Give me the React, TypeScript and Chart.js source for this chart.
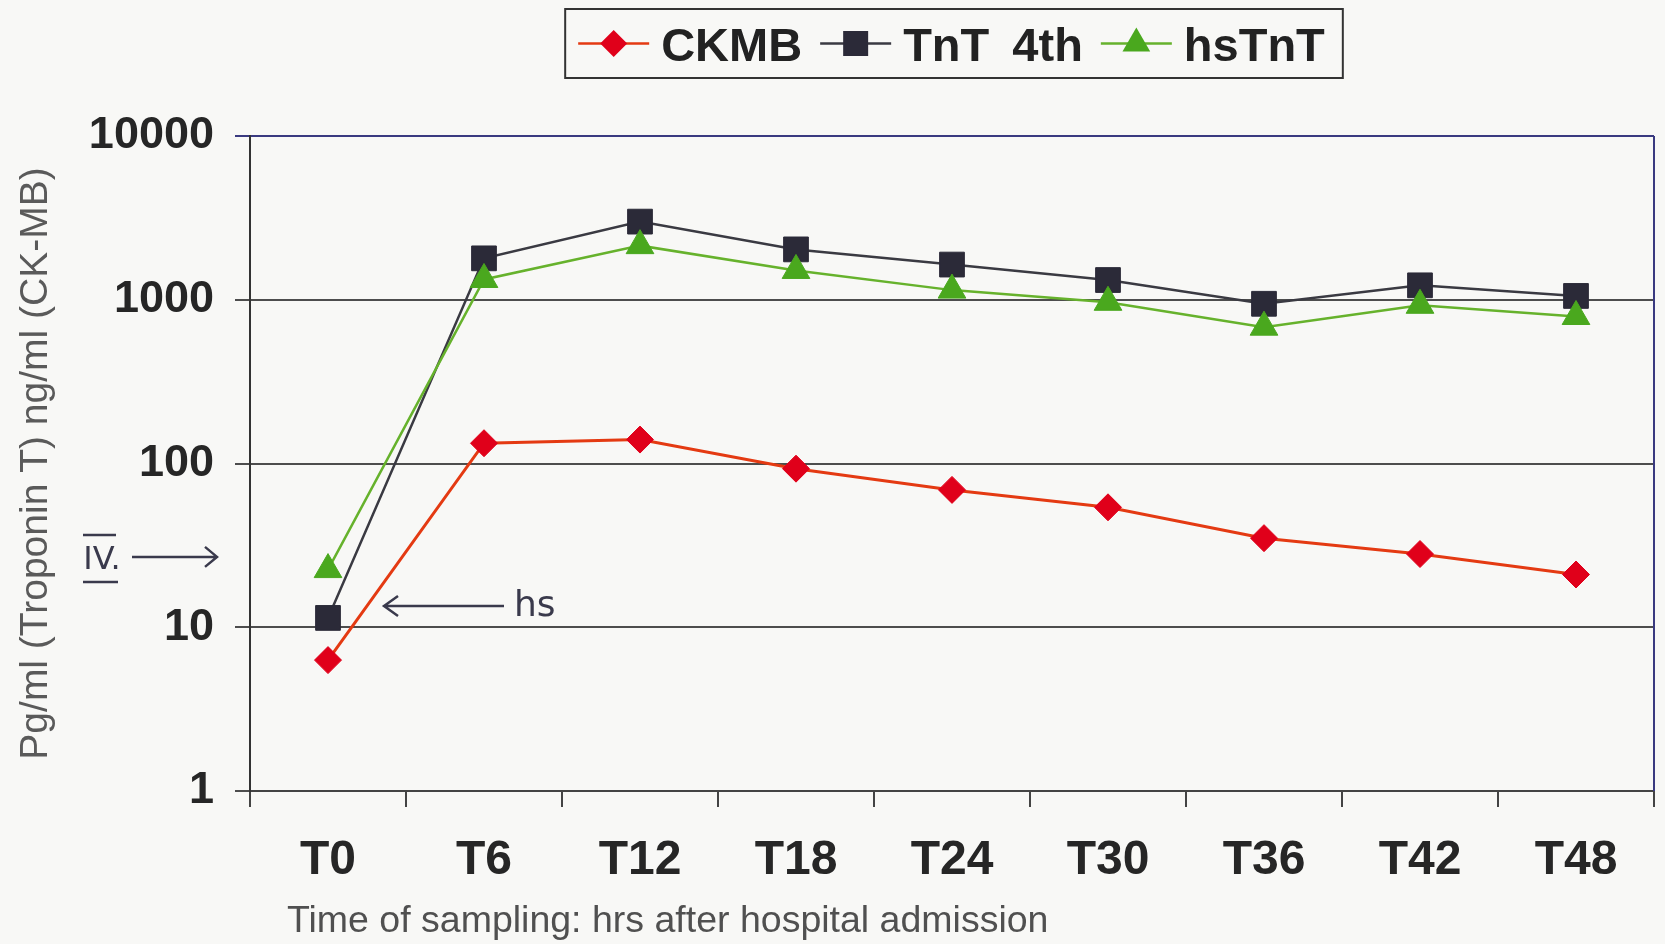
import React, { useEffect, useRef } from "react";
import { Chart, registerables } from "chart.js";

Chart.register(...registerables);

const FONT = "'Liberation Sans', Arial, Helvetica, sans-serif";
const HAND = "'DejaVu Sans', 'Liberation Sans', sans-serif";

const categories = ["T0", "T6", "T12", "T18", "T24", "T30", "T36", "T42", "T48"];
const ckmbValues = [6.3, 133, 140, 93, 69, 54, 35, 28, 21];
const tnt4thValues = [11.4, 1790, 3000, 2030, 1640, 1320, 945, 1225, 1055];
const hsTnTValues = [22.5, 1330, 2140, 1510, 1145, 965, 680, 925, 790];
const seriesNames = ["CKMB", "TnT 4th", "hsTnT"];
const yTickValues = [1, 10, 100, 1000, 10000];
const yTitle = "Pg/ml (Troponin T) ng/ml (CK-MB)";
const xTitle = "Time of sampling: hrs after hospital admission";
const hsNote = "hs";
const ivNote = "IV.";
const hsArrowValue = 13.5;
const ivArrowValue = 26.9;

const lineColors = ["#e43a12", "#3a3a42", "#66b22c"];
const markerColors = ["#e0001a", "#2b2a38", "#4aa81e"];

function drawMarker(ctx: CanvasRenderingContext2D, kind: number, x: number, y: number) {
  ctx.beginPath();
  if (kind === 0) {
    const r = 13.5;
    ctx.moveTo(x, y - r);
    ctx.lineTo(x + r, y);
    ctx.lineTo(x, y + r);
    ctx.lineTo(x - r, y);
    ctx.closePath();
  } else if (kind === 1) {
    const h = 12.5;
    ctx.rect(x - h, y - h, 2 * h, 2 * h);
  } else {
    const r = 16;
    ctx.moveTo(x, y - r);
    ctx.lineTo(x + r * 0.866, y + r * 0.5);
    ctx.lineTo(x - r * 0.866, y + r * 0.5);
    ctx.closePath();
  }
  ctx.fillStyle = markerColors[kind];
  ctx.fill();
}

export default function App() {
  const ref = useRef<HTMLCanvasElement>(null);

  useEffect(() => {
    const canvas = ref.current!;
    const decor = {
      id: "decor",
      afterDraw(chart: any) {
        const ctx: CanvasRenderingContext2D = chart.ctx;
        const ca = chart.chartArea;
        const xs = chart.scales.x;
        const ys = chart.scales.y;
        ctx.save();

        // right frame line
        ctx.strokeStyle = "#3a3a80";
        ctx.lineWidth = 2;
        ctx.beginPath();
        ctx.moveTo(ca.right, ca.top);
        ctx.lineTo(ca.right, ca.bottom);
        ctx.stroke();

        // legend box
        ctx.font = `bold 47px ${FONT}`;
        const widths = seriesNames.map((n) => ctx.measureText(n).width);
        widths[1] += 10;
        const sampleW = 71, gapST = 12, gapE = 18, padL = 13, padR = 18;
        const total = padL + padR + widths.reduce((a, b) => a + b, 0) + 3 * (sampleW + gapST) + 2 * gapE;
        const cx = (ca.left + ca.right) / 2 + 2;
        const bx = cx - total / 2, by = 9, bh = 69;
        ctx.strokeStyle = "#333";
        ctx.lineWidth = 2;
        ctx.strokeRect(bx, by, total, bh);
        let x = bx + padL;
        const cy = by + bh / 2;
        seriesNames.forEach((name, i) => {
          ctx.strokeStyle = lineColors[i];
          ctx.lineWidth = 2.5;
          ctx.beginPath();
          ctx.moveTo(x, cy);
          ctx.lineTo(x + sampleW, cy);
          ctx.stroke();
          drawMarker(ctx, i, x + sampleW / 2, cy);
          x += sampleW + gapST;
          ctx.fillStyle = "#222";
          ctx.textBaseline = "alphabetic";
          ctx.textAlign = "left";
          if (i === 1) {
            ctx.fillText("TnT", x, cy + 17);
            const w1 = ctx.measureText("TnT ").width;
            ctx.fillText("4th", x + w1 + 10, cy + 17);
          } else {
            ctx.fillText(name, x, cy + 17);
          }
          x += widths[i] + gapE;
        });

        // x axis title
        ctx.font = `37.5px ${FONT}`;
        ctx.fillStyle = "#505050";
        ctx.textAlign = "left";
        ctx.textBaseline = "alphabetic";
        ctx.fillText(xTitle, ca.left + 37, 932);

        // handwritten notes
        const noteColor = "#3a3a4c";
        ctx.strokeStyle = noteColor;
        ctx.fillStyle = noteColor;
        ctx.lineWidth = 2.5;
        const x0 = xs.getPixelForValue(0);
        const yh = ys.getPixelForValue(hsArrowValue);
        const tip = x0 + 56;
        ctx.beginPath();
        ctx.moveTo(x0 + 176, yh);
        ctx.lineTo(tip, yh);
        ctx.moveTo(tip + 14, yh - 10);
        ctx.lineTo(tip, yh);
        ctx.lineTo(tip + 14, yh + 10);
        ctx.stroke();
        ctx.font = `36px ${HAND}`;
        ctx.textAlign = "left";
        ctx.fillText(hsNote, x0 + 186, yh + 10);

        const yi = ys.getPixelForValue(ivArrowValue);
        const tip2 = ca.left - 33;
        ctx.beginPath();
        ctx.moveTo(ca.left - 118, yi);
        ctx.lineTo(tip2, yi);
        ctx.moveTo(tip2 - 12, yi - 10);
        ctx.lineTo(tip2, yi);
        ctx.lineTo(tip2 - 12, yi + 10);
        ctx.stroke();
        ctx.font = `32px ${HAND}`;
        ctx.textAlign = "center";
        const ivx = ca.left - 148;
        ctx.fillText(ivNote, ivx, yi + 12);
        ctx.beginPath();
        ctx.moveTo(ivx - 19, yi - 22);
        ctx.lineTo(ivx + 14, yi - 22);
        ctx.moveTo(ivx - 19, yi + 25);
        ctx.lineTo(ivx + 16, yi + 25);
        ctx.stroke();

        ctx.restore();
      },
    };

    const chart = new Chart(canvas, {
      type: "line",
      data: {
        labels: categories,
        datasets: [
          {
            label: seriesNames[0],
            data: ckmbValues,
            borderColor: lineColors[0],
            borderWidth: 3,
            pointStyle: "rectRot",
            pointRadius: 13.5,
            pointBackgroundColor: markerColors[0],
            pointBorderColor: markerColors[0],
            pointBorderWidth: 1,
            order: 2,
          },
          {
            label: seriesNames[1],
            data: tnt4thValues,
            borderColor: lineColors[1],
            borderWidth: 2.5,
            pointStyle: "rect",
            pointRadius: 17.5,
            pointBackgroundColor: markerColors[1],
            pointBorderColor: markerColors[1],
            pointBorderWidth: 1,
            order: 1,
          },
          {
            label: seriesNames[2],
            data: hsTnTValues,
            borderColor: lineColors[2],
            borderWidth: 2.5,
            pointStyle: "triangle",
            pointRadius: 16,
            pointBackgroundColor: markerColors[2],
            pointBorderColor: markerColors[2],
            pointBorderWidth: 1,
            order: 0,
          },
        ],
      },
      options: {
        responsive: false,
        animation: false,
        layout: { autoPadding: false, padding: { top: 136, right: 11, bottom: 0, left: 0 } },
        plugins: { legend: { display: false }, tooltip: { enabled: false } },
        scales: {
          x: {
            type: "category",
            offset: true,
            afterFit: (s: any) => {
              s.height = 153;
            },
            grid: { offset: true, drawOnChartArea: false, drawTicks: true, tickLength: 16, color: "#444", lineWidth: 2 },
            border: { display: true, color: "#444", width: 2 },
            ticks: {
              font: { family: FONT, size: 48, weight: "bold" },
              color: "#262626",
              padding: 25,
              maxRotation: 0,
              autoSkip: false,
            },
          },
          y: {
            type: "logarithmic",
            min: 1,
            max: 10000,
            afterBuildTicks: (s: any) => {
              s.ticks = yTickValues.map((v) => ({ value: v }));
            },
            afterFit: (s: any) => {
              s.width = 250;
            },
            ticks: {
              font: { family: FONT, size: 45, weight: "bold" },
              color: "#262626",
              padding: 21,
              callback: (v: any) => String(v),
            },
            grid: {
              color: (c: any) => (c.tick && c.tick.value === 10000 ? "#3a3a80" : "#4d4d4d"),
              lineWidth: 2,
              tickLength: 15,
              drawTicks: true,
            },
            border: { display: true, color: "#333", width: 2 },
            title: {
              display: true,
              text: yTitle,
              font: { family: FONT, size: 39 },
              color: "#5a5a5a",
              padding: { top: 13, bottom: 0 },
            },
          },
        },
      },
      plugins: [decor],
    } as any);
    return () => chart.destroy();
  }, []);

  return (
    <div style={{ position: "fixed", left: 0, top: 0, width: 1665, height: 944, background: "#f8f8f6" }}>
      <canvas ref={ref} width={1665} height={944} style={{ display: "block", width: 1665, height: 944 }} />
    </div>
  );
}
